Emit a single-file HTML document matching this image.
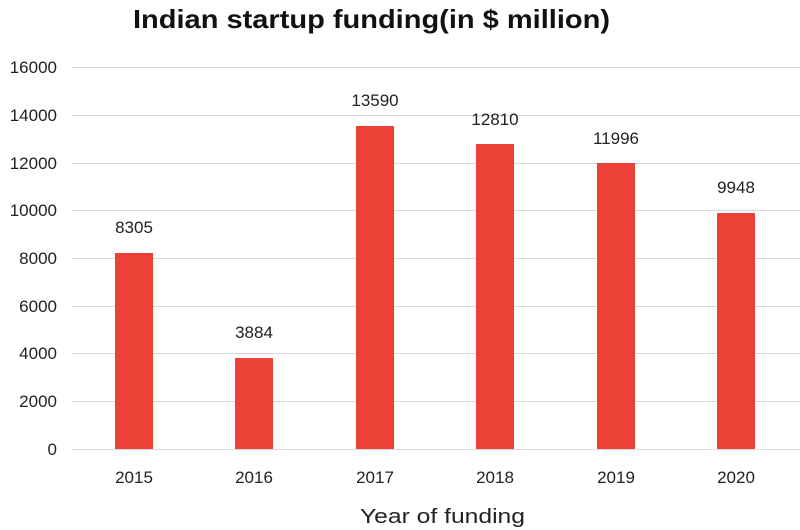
<!DOCTYPE html>
<html><head><meta charset="utf-8"><style>
body{margin:0;background:#fff;}
svg{display:block;font-family:"Liberation Sans",sans-serif;}
</style></head><body>
<svg width="800" height="530" xmlns="http://www.w3.org/2000/svg">
<text x="133" y="28" font-size="26" font-weight="bold" fill="#111" textLength="477" lengthAdjust="spacingAndGlyphs">Indian startup funding(in $ million)</text>
<g stroke="#d9d9d9" stroke-width="1">
<line x1="72" x2="800" y1="67.5" y2="67.5"/>
<line x1="72" x2="800" y1="115.5" y2="115.5"/>
<line x1="72" x2="800" y1="163.5" y2="163.5"/>
<line x1="72" x2="800" y1="210.5" y2="210.5"/>
<line x1="72" x2="800" y1="258.5" y2="258.5"/>
<line x1="72" x2="800" y1="306.5" y2="306.5"/>
<line x1="72" x2="800" y1="353.5" y2="353.5"/>
<line x1="72" x2="800" y1="401.5" y2="401.5"/>
<line x1="72" x2="800" y1="449.5" y2="449.5"/>
</g>
<g font-size="17" fill="#222" text-anchor="end">
<text x="57" y="73">16000</text>
<text x="57" y="121">14000</text>
<text x="57" y="169">12000</text>
<text x="57" y="216">10000</text>
<text x="57" y="264">8000</text>
<text x="57" y="312">6000</text>
<text x="57" y="359">4000</text>
<text x="57" y="407">2000</text>
<text x="57" y="455">0</text>
</g>
<g fill="#ec4137">
<rect x="115" y="253" width="38" height="196"/>
<rect x="235" y="358" width="38" height="91"/>
<rect x="356" y="126" width="38" height="323"/>
<rect x="476" y="144" width="38" height="305"/>
<rect x="597" y="163" width="38" height="286"/>
<rect x="717" y="213" width="38" height="236"/>
</g>
<g font-size="17" fill="#222" text-anchor="middle">
<text x="134" y="233">8305</text>
<text x="254" y="338">3884</text>
<text x="375" y="106">13590</text>
<text x="495" y="125">12810</text>
<text x="616" y="144">11996</text>
<text x="736" y="193">9948</text>
<text x="134" y="483">2015</text>
<text x="254" y="483">2016</text>
<text x="375" y="483">2017</text>
<text x="495" y="483">2018</text>
<text x="616" y="483">2019</text>
<text x="736" y="483">2020</text>
</g>
<text x="360" y="523" font-size="20" fill="#222" textLength="165" lengthAdjust="spacingAndGlyphs">Year of funding</text>
</svg>
</body></html>
